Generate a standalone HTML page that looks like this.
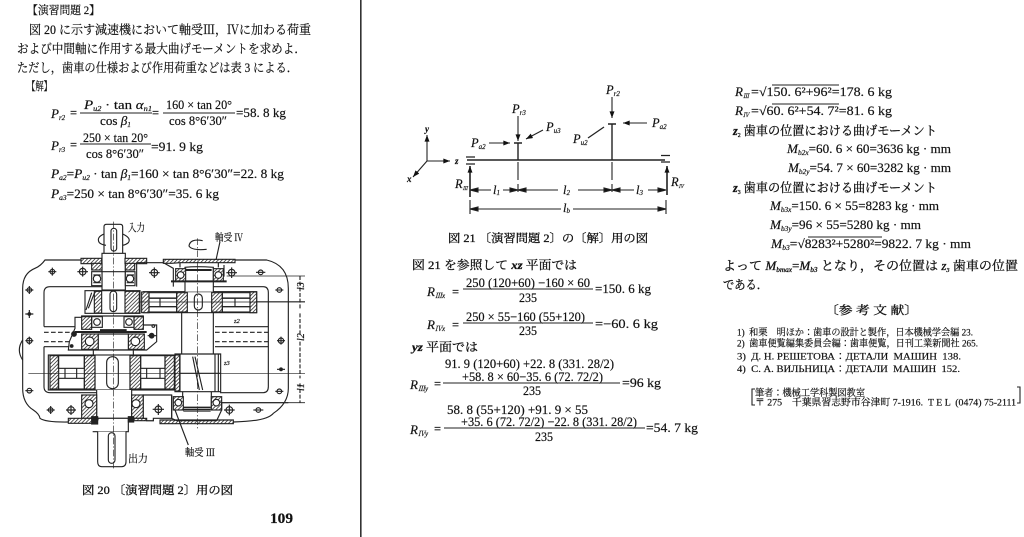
<!DOCTYPE html>
<html lang="ja"><head><meta charset="utf-8"><title>演習問題 2</title>
<style>
html,body{margin:0;padding:0;background:#fff}
svg{display:block;filter:blur(.3px)}
text{font-family:"Liberation Serif","Noto Serif CJK JP",serif;fill:#111;white-space:pre;stroke:#111;stroke-width:.18px}
.i{font-style:italic}
.b{stroke:#111;stroke-width:.3px}
.l{stroke:#222;fill:none;stroke-width:1.1}
</style></head><body>
<svg xmlns="http://www.w3.org/2000/svg" width="1024" height="537" viewBox="0 0 1024 537">
<defs>
<pattern id="h" width="8" height="8" patternUnits="userSpaceOnUse" patternTransform="rotate(45)"><rect width="8" height="8" fill="#fff"/><rect width="2.4" height="8" fill="#333"/></pattern>
<marker id="a" viewBox="0 0 8 6" refX="8" refY="3" markerWidth="7" markerHeight="5" orient="auto" markerUnits="userSpaceOnUse"><path d="M0 0L8 3L0 6z" fill="#111"/></marker>
</defs>
<rect width="1024" height="537" fill="#fff"/>
<rect x="360" y="0" width="1.6" height="537" fill="#333"/>

<!-- Left page text -->
<g class="b">
<text x="27" y="14" font-size="11.5" textLength="73" lengthAdjust="spacingAndGlyphs">【演習問題 2】</text>
<text x="29" y="34" font-size="12.5" textLength="282" lengthAdjust="spacingAndGlyphs">図 20 に示す減速機において軸受Ⅲ，Ⅳに加わる荷重</text>
<text x="17" y="53" font-size="12.5" textLength="289" lengthAdjust="spacingAndGlyphs">および中間軸に作用する最大曲げモーメントを求めよ．</text>
<text x="17" y="72" font-size="12.5" textLength="281" lengthAdjust="spacingAndGlyphs">ただし，歯車の仕様および作用荷重などは表 3 による．</text>
<text x="27" y="90" font-size="11.5" textLength="25" lengthAdjust="spacingAndGlyphs">【解】</text>
</g>
<g font-size="12.5">
<text x="51" y="118" class="i" font-size="13">P<tspan font-size="7" dy="2">r2</tspan></text><text x="70" y="117">=</text>
<text x="84" y="109" textLength="68" lengthAdjust="spacingAndGlyphs"><tspan class="i">P<tspan font-size="7" dy="2">u2</tspan></tspan><tspan dy="-2"> · tan </tspan><tspan class="i">α<tspan font-size="7" dy="2">n1</tspan></tspan></text>
<line x1="80" y1="113" x2="152" y2="113" class="l"/>
<text x="100" y="125" textLength="31" lengthAdjust="spacingAndGlyphs">cos <tspan class="i">β<tspan font-size="7" dy="2">1</tspan></tspan></text>
<text x="152" y="117">=</text>
<text x="166" y="109" textLength="66" lengthAdjust="spacingAndGlyphs">160 × tan 20°</text>
<line x1="163" y1="113" x2="235" y2="113" class="l"/>
<text x="169" y="125" textLength="58" lengthAdjust="spacingAndGlyphs">cos 8°6′30″</text>
<text x="236" y="117" textLength="50" lengthAdjust="spacingAndGlyphs">=58. 8 kg</text>

<text x="51" y="150" class="i" font-size="13">P<tspan font-size="7" dy="2">r3</tspan></text><text x="70" y="149">=</text>
<text x="83" y="142" textLength="65" lengthAdjust="spacingAndGlyphs">250 × tan 20°</text>
<line x1="80" y1="144" x2="151" y2="144" class="l"/>
<text x="86" y="158" textLength="58" lengthAdjust="spacingAndGlyphs">cos 8°6′30″</text>
<text x="151" y="151" textLength="52" lengthAdjust="spacingAndGlyphs">=91. 9 kg</text>

<text x="51" y="178" textLength="233" lengthAdjust="spacingAndGlyphs"><tspan class="i">P<tspan font-size="7" dy="2">a2</tspan></tspan><tspan dy="-2">=</tspan><tspan class="i">P<tspan font-size="7" dy="2">u2</tspan></tspan><tspan dy="-2"> · tan </tspan><tspan class="i">β<tspan font-size="7" dy="2">1</tspan></tspan><tspan dy="-2">=160 × tan 8°6′30″=22. 8 kg</tspan></text>
<text x="51" y="198" textLength="168" lengthAdjust="spacingAndGlyphs"><tspan class="i">P<tspan font-size="7" dy="2">a3</tspan></tspan><tspan dy="-2">=250 × tan 8°6′30″=35. 6 kg</tspan></text>
</g>

<!-- Fig 20 drawing in 3x coordinates -->
<g transform="translate(0,210) scale(.33333)" fill="none" stroke="#222" stroke-width="3.4">
<path d="M245 150H135Q122 168 105 175Q68 190 68 235V535Q68 580 100 600Q118 612 120 625Q135 637 205 636"/>
<path d="M705 150H800Q865 165 865 235V535Q865 580 820 610Q800 634 700 636"/>
<path d="M68 390Q48 420 68 450"/>
<path d="M305 230H150Q132 230 132 248V350M132 410V530Q132 548 150 548H290"/>
<path d="M640 230H790Q805 230 805 248V530Q805 548 790 548H660"/>
<path d="M132 350H225M132 410H210M645 350H805M645 410H805"/>
<path d="M132 367H225M132 395H215M645 367H805M645 395H805" stroke-dasharray="14 7"/>
<!-- input shaft -->
<path d="M312 130V50Q312 43 320 43H360Q368 43 368 50V130" fill="#fff"/>
<rect x="333" y="55" width="17" height="68" rx="8"/>
<rect x="306" y="130" width="70" height="110" fill="#fff"/>
<path d="M306 185H376"/>
<!-- upper gears -->
<rect x="255" y="242" width="165" height="68" fill="#fff"/>
<rect x="283" y="244" width="22" height="65" fill="url(#h)"/><rect x="375" y="244" width="43" height="65" fill="url(#h)"/>
<path d="M265 295L283 250M258 300L275 248"/>
<rect x="330" y="243" width="20" height="62" rx="10"/>
<rect x="430" y="245" width="340" height="63" fill="#fff"/>
<rect x="530" y="248" width="32" height="58" fill="url(#h)"/><rect x="635" y="248" width="32" height="58" fill="url(#h)"/>
<rect x="425" y="246" width="22" height="62" fill="url(#h)"/><rect x="750" y="246" width="20" height="62" fill="url(#h)"/>
<path d="M447 265H530M447 290H530M667 265H750M667 290H750M480 265V290M705 265V290"/>
<rect x="447" y="248" width="83" height="16"/><rect x="447" y="290" width="83" height="16"/>
<rect x="667" y="248" width="83" height="16"/><rect x="667" y="290" width="83" height="16"/>
<rect x="583" y="252" width="24" height="48" rx="12" fill="#fff"/>
<!-- middle shaft -->
<path d="M555 245V172Q590 168 640 172V245" fill="#fff"/>
<path d="M545 308V432M640 308V432"/>
<path d="M558 180H635" stroke-width="6"/>
<!-- upper bearings and covers -->
<rect x="243" y="145" width="62" height="16" fill="url(#h)"/><rect x="375" y="145" width="65" height="16" fill="url(#h)"/>
<rect x="275" y="160" width="31" height="20" fill="url(#h)"/><rect x="376" y="160" width="28" height="20" fill="url(#h)"/>
<rect x="275" y="185" width="31" height="42" fill="#fff"/><rect x="376" y="185" width="29" height="42" fill="#fff"/>
<circle cx="291" cy="206" r="11"/><circle cx="390" cy="206" r="11"/>
<path d="M280 195H302M280 218H302M380 195H402M380 218H402"/>
<path d="M490 148H705V158H675L650 158H540L515 160H490Z" fill="url(#h)"/>
<path d="M540 158V172M655 158V172"/>
<rect x="527" y="176" width="30" height="38" fill="url(#h)"/><rect x="640" y="176" width="30" height="38" fill="url(#h)"/>
<circle cx="542" cy="195" r="10" fill="#fff"/><circle cx="655" cy="195" r="10" fill="#fff"/>
<path d="M513 214H680" stroke-width="6"/>
<path d="M410 158V230M410 158H490M490 158L520 175V230M672 165V200"/>
<!-- mid cartridge -->
<path d="M208 395L225 355V322H245V318H430V345H470V395L440 420H205Z" fill="#fff"/>
<rect x="245" y="320" width="30" height="38" fill="url(#h)"/><rect x="402" y="320" width="28" height="38" fill="url(#h)"/>
<rect x="275" y="320" width="32" height="32"/><rect x="372" y="320" width="30" height="32"/>
<circle cx="291" cy="336" r="10"/><circle cx="387" cy="336" r="10"/>
<path d="M225 366H440" stroke-width="6"/>
<path d="M300 362H380" stroke-width="9"/>
<rect x="245" y="372" width="50" height="46" fill="url(#h)"/><rect x="385" y="372" width="48" height="46" fill="url(#h)"/>
<circle cx="269" cy="394" r="13" fill="#fff"/><circle cx="406" cy="394" r="13" fill="#fff"/>
<path d="M295 372H385V420H295Z" fill="#fff"/>
<path d="M280 420H400V436H280Z" fill="#fff"/>
<!-- lower gear -->
<rect x="145" y="435" width="380" height="105" fill="#fff"/>
<rect x="253" y="437" width="32" height="100" fill="url(#h)"/><rect x="390" y="437" width="32" height="100" fill="url(#h)"/>
<rect x="150" y="437" width="26" height="100" fill="url(#h)"/>
<rect x="495" y="437" width="28" height="100" fill="url(#h)"/>
<rect x="175" y="437" width="78" height="38"/><rect x="175" y="505" width="78" height="32"/>
<rect x="422" y="437" width="73" height="38"/><rect x="422" y="505" width="73" height="32"/>
<path d="M195 475V505M230 475V505M440 475V505M480 475V505"/>
<path d="M285 435V540M390 435V540"/>
<rect x="320" y="440" width="35" height="96" rx="17" fill="#fff"/>
<!-- pinion -->
<path d="M525 432H662V545H525Z" fill="#fff"/>
<path d="M540 432V545M645 432V545M525 490H662M578 440L598 540M585 440L608 540"/>
<rect x="525" y="435" width="14" height="108" fill="url(#h)"/>
<path d="M655 432V545"/>
<path d="M548 545V600M634 545V600"/>
<!-- lower shafts -->
<path d="M290 540V625H395V540" fill="#fff"/>
<path d="M278 625H385V665H278" fill="#fff"/>
<path d="M293 665V755Q293 770 305 770H365Q378 770 378 755V665" fill="#fff"/>
<rect x="325" y="668" width="20" height="92" rx="10"/>
<!-- lower bearings and covers -->
<rect x="245" y="555" width="45" height="70" fill="url(#h)"/><rect x="395" y="555" width="35" height="70" fill="url(#h)"/>
<circle cx="267" cy="581" r="12" fill="#fff"/><circle cx="408" cy="581" r="12" fill="#fff"/>
<path d="M205 625H295L290 640H205ZM390 625H460V632H390Z" fill="url(#h)"/>
<path d="M480 630H700V641H480Z" fill="url(#h)"/>
<rect x="275" y="620" width="18" height="22" fill="#222"/>
<rect x="385" y="620" width="16" height="16" fill="#222"/>
<path d="M430 555H515V625H460V632H440V625H430Z" fill="#fff"/>
<rect x="520" y="560" width="30" height="40" fill="url(#h)"/><rect x="634" y="560" width="31" height="40" fill="url(#h)"/>
<circle cx="535" cy="578" r="10" fill="#fff"/><circle cx="649" cy="578" r="10" fill="#fff"/>
<path d="M550 592H632M550 598H632M550 603H632" stroke-width="4"/>
<path d="M515 555V625L530 632H650L665 600V578H865"/>
<!-- centre lines -->
<path d="M340 35V780M592 85V655" stroke-width="2" stroke-dasharray="20 6 4 6"/>
<path d="M85 490H915M420 276H915" stroke-width="2"/>
<!-- rotation -->
<path d="M312 72Q288 82 298 98Q305 104 318 106M368 72Q395 84 385 98Q378 104 368 106"/>
<path d="M608 92Q570 85 567 108Q575 122 620 118"/>
<path d="M660 95L648 150M525 600L565 705"/>
<!-- dimension -->
<path d="M680 198H915M770 275H915M660 578H915" stroke-width="2.5"/>
<path d="M900 198V300M900 310V375M900 395V505M900 520V578" stroke-dasharray="12 5"/>
<!-- holes -->
<circle cx="157" cy="185" r="7"/><path d="M145 185H169M157 173V197"/>
<circle cx="248" cy="185" r="10"/><path d="M232 185H264M248 170V200"/>
<circle cx="463" cy="188" r="10"/><path d="M447 188H479M463 172V204"/>
<circle cx="695" cy="188" r="10"/><path d="M679 188H711M695 172V204"/>
<circle cx="782" cy="187" r="7"/><path d="M768 187H796"/>
<circle cx="88" cy="240" r="7"/><path d="M76 240H100M88 228V252"/>
<circle cx="838" cy="240" r="7"/><path d="M826 240H850"/>
<circle cx="88" cy="312" r="4" fill="#222"/><path d="M76 312H100M88 300V324"/>
<circle cx="88" cy="392" r="8"/><path d="M76 392H100M88 380V404"/>
<circle cx="843" cy="392" r="8"/><path d="M831 392H855M843 380V404"/>
<circle cx="843" cy="478" r="4" fill="#222"/><path d="M831 478H855"/>
<circle cx="88" cy="542" r="7"/><path d="M76 542H100"/>
<circle cx="838" cy="544" r="7"/><path d="M826 544H850"/>
<circle cx="152" cy="600" r="7"/><path d="M140 600H164M152 588V612"/>
<circle cx="213" cy="600" r="10"/><path d="M198 600H228M213 585V615"/>
<circle cx="475" cy="598" r="10"/><path d="M458 598H492M475 582V615"/>
<circle cx="688" cy="600" r="10"/><path d="M672 600H704M688 584V616"/>
<circle cx="775" cy="600" r="7"/><path d="M760 600H790"/>
<circle cx="222" cy="372" r="7" fill="#222"/>
<circle cx="455" cy="377" r="7" fill="#222"/><path d="M443 377H470"/>
<circle cx="215" cy="408" r="4" fill="#222"/>
<circle cx="460" cy="348" r="4"/>
</g>
<g>
<text x="128" y="231" font-size="10.5" textLength="17" lengthAdjust="spacingAndGlyphs">入力</text>
<text x="215" y="241" font-size="10" textLength="28" lengthAdjust="spacingAndGlyphs">軸受 Ⅳ</text>
<text x="128" y="462" font-size="10.5" textLength="20" lengthAdjust="spacingAndGlyphs">出力</text>
<text x="185" y="456" font-size="10" textLength="30" lengthAdjust="spacingAndGlyphs">軸受 Ⅲ</text>
<text x="234" y="323" class="i" font-size="6.5">z2</text>
<text x="224" y="365" class="i" font-size="6.5">z3</text>
<text class="i" transform="translate(304,290) rotate(-90)" font-size="10">l3</text>
<text class="i" transform="translate(304,341) rotate(-90)" font-size="10">l2</text>
<text class="i" transform="translate(304,391) rotate(-90)" font-size="10">l1</text>
</g>
<text x="82" y="494" font-size="11.5" class="b" textLength="151" lengthAdjust="spacingAndGlyphs">図 20 〔演習問題 2〕用の図</text>
<text x="270" y="523" font-size="15" font-weight="bold" textLength="23" lengthAdjust="spacingAndGlyphs">109</text>

<!-- Fig 21 -->
<g class="l">
<path d="M467 160H665" stroke-width="1.6"/>
<path d="M466 157H475M466 164H475M661 155.5H670M661 162H670" stroke-width="1.3"/>
<path d="M518 143V160M514 143H522M612 124V160M608 124H616" stroke-width="1.4"/>
<path d="M518 162V180M518 184V192M612 162V180M612 184V192"/>
<line x1="518" y1="116" x2="518" y2="141" marker-end="url(#a)"/>
<line x1="612" y1="97" x2="612" y2="118" marker-end="url(#a)"/>
<line x1="489" y1="143" x2="510" y2="143" marker-end="url(#a)"/>
<line x1="543" y1="130" x2="526" y2="139" marker-end="url(#a)"/>
<line x1="647" y1="123" x2="623" y2="123" marker-end="url(#a)"/>
<line x1="470" y1="197" x2="470" y2="166" marker-end="url(#a)" stroke-width="1.6"/>
<line x1="667" y1="195" x2="667" y2="166" marker-end="url(#a)" stroke-width="1.6"/>
<line x1="427" y1="161" x2="427" y2="135" marker-end="url(#a)"/>
<line x1="427" y1="161" x2="450" y2="161" marker-end="url(#a)"/>
<line x1="427" y1="161" x2="413" y2="177" marker-end="url(#a)"/>
<path d="M588 138L604 127" stroke-width="1.3"/>
<path d="M470 190H491M503 190H558M578 190H634M648 190H666"/>
<path d="M470 209H561M573 209H666M470 200V214M666 200V214"/>
<path d="M470 190L478 188V192ZM518 190L510 188V192ZM518 190L526 188V192ZM612 190L604 188V192ZM612 190L620 188V192ZM666 190L658 188V192ZM470 209L478 207V211ZM666 209L658 207V211Z" fill="#111"/>
</g>
<g font-size="12.5" class="i">
<text x="512" y="113">P<tspan font-size="7" dy="2">r3</tspan></text>
<text x="606" y="94">P<tspan font-size="7" dy="2">r2</tspan></text>
<text x="471" y="147">P<tspan font-size="7" dy="2">a2</tspan></text>
<text x="546" y="131">P<tspan font-size="7" dy="2">u3</tspan></text>
<text x="652" y="127">P<tspan font-size="7" dy="2">a2</tspan></text>
<text x="573" y="143">P<tspan font-size="7" dy="2">u2</tspan></text>
<text x="425" y="132" font-size="9" font-weight="bold">y</text>
<text x="455" y="164" font-size="9" font-weight="bold">z</text>
<text x="407" y="182" font-size="9" font-weight="bold">x</text>
<text x="455" y="188">R<tspan font-size="5" dy="2">Ⅲ</tspan></text>
<text x="671" y="186">R<tspan font-size="5" dy="2">Ⅳ</tspan></text>
<text x="493" y="194">l<tspan font-size="7" dy="1">1</tspan></text>
<text x="563" y="194">l<tspan font-size="7" dy="1">2</tspan></text>
<text x="636" y="194">l<tspan font-size="7" dy="1">3</tspan></text>
<text x="563" y="212">l<tspan font-size="7" dy="1">b</tspan></text>
</g>
<text x="448" y="242" font-size="11.5" class="b" textLength="200" lengthAdjust="spacingAndGlyphs">図 21 〔演習問題 2〕の〔解〕用の図</text>

<!-- middle equations -->
<g font-size="12.5">
<text x="412" y="269" font-size="12" class="b" textLength="165" lengthAdjust="spacingAndGlyphs">図 21 を参照して <tspan class="i" font-weight="bold">xz</tspan> 平面では</text>
<text x="427" y="296" class="i" font-size="13">R<tspan font-size="7" dy="2">Ⅲx</tspan></text><text x="452" y="296">=</text>
<text x="466" y="287" textLength="124" lengthAdjust="spacingAndGlyphs">250 (120+60) −160 × 60</text>
<line x1="463" y1="289" x2="593" y2="289" class="l"/>
<text x="519" y="302" textLength="18" lengthAdjust="spacingAndGlyphs">235</text>
<text x="595" y="293" textLength="56" lengthAdjust="spacingAndGlyphs">=150. 6 kg</text>

<text x="427" y="329" class="i" font-size="13">R<tspan font-size="7" dy="2">Ⅳx</tspan></text><text x="452" y="329">=</text>
<text x="466" y="321" textLength="119" lengthAdjust="spacingAndGlyphs">250 × 55−160 (55+120)</text>
<line x1="463" y1="323" x2="593" y2="323" class="l"/>
<text x="519" y="335" textLength="18" lengthAdjust="spacingAndGlyphs">235</text>
<text x="595" y="328" textLength="63" lengthAdjust="spacingAndGlyphs">=−60. 6 kg</text>

<text x="412" y="351" font-size="12" class="b" textLength="66" lengthAdjust="spacingAndGlyphs"><tspan class="i" font-weight="bold">yz</tspan> 平面では</text>

<text x="410" y="389" class="i" font-size="13">R<tspan font-size="7" dy="2">Ⅲy</tspan></text><text x="434" y="388">=</text>
<text x="445" y="368" textLength="169" lengthAdjust="spacingAndGlyphs">91. 9 (120+60) +22. 8 (331. 28/2)</text>
<text x="462" y="381" textLength="141" lengthAdjust="spacingAndGlyphs">+58. 8 × 60−35. 6 (72. 72/2)</text>
<line x1="443" y1="383" x2="620" y2="383" class="l"/>
<text x="523" y="395" textLength="18" lengthAdjust="spacingAndGlyphs">235</text>
<text x="622" y="387" textLength="39" lengthAdjust="spacingAndGlyphs">=96 kg</text>

<text x="410" y="434" class="i" font-size="13">R<tspan font-size="7" dy="2">Ⅳy</tspan></text><text x="434" y="433">=</text>
<text x="447" y="414" textLength="141" lengthAdjust="spacingAndGlyphs">58. 8 (55+120) +91. 9 × 55</text>
<text x="461" y="426" textLength="176" lengthAdjust="spacingAndGlyphs">+35. 6 (72. 72/2) −22. 8 (331. 28/2)</text>
<line x1="444" y1="428" x2="645" y2="428" class="l"/>
<text x="535" y="441" textLength="18" lengthAdjust="spacingAndGlyphs">235</text>
<text x="646" y="432" textLength="52" lengthAdjust="spacingAndGlyphs">=54. 7 kg</text>
</g>

<!-- right column -->
<g font-size="12.5">
<text x="735" y="96" class="i" font-size="13">R<tspan font-size="6" dy="2">Ⅲ</tspan></text>
<text x="751" y="96" textLength="141" lengthAdjust="spacingAndGlyphs">=√150. 6²+96²=178. 6 kg</text>
<line x1="772" y1="85" x2="839" y2="85" class="l"/>
<text x="735" y="115" class="i" font-size="13">R<tspan font-size="6" dy="2">Ⅳ</tspan></text>
<text x="751" y="115" textLength="141" lengthAdjust="spacingAndGlyphs">=√60. 6²+54. 7²=81. 6 kg</text>
<line x1="772" y1="104" x2="839" y2="104" class="l"/>
<text x="733" y="135" class="b" textLength="204" lengthAdjust="spacingAndGlyphs"><tspan class="i" font-weight="bold">z</tspan><tspan font-size="6" dy="2">2</tspan><tspan dy="-2"> 歯車の位置における曲げモーメント</tspan></text>
<text x="787" y="153" textLength="164" lengthAdjust="spacingAndGlyphs"><tspan class="i">M<tspan font-size="7" dy="2">b2x</tspan></tspan><tspan dy="-2">=60. 6 × 60=3636 kg · mm</tspan></text>
<text x="788" y="172" textLength="163" lengthAdjust="spacingAndGlyphs"><tspan class="i">M<tspan font-size="7" dy="2">b2y</tspan></tspan><tspan dy="-2">=54. 7 × 60=3282 kg · mm</tspan></text>
<text x="733" y="192" class="b" textLength="204" lengthAdjust="spacingAndGlyphs"><tspan class="i" font-weight="bold">z</tspan><tspan font-size="6" dy="2">3</tspan><tspan dy="-2"> 歯車の位置における曲げモーメント</tspan></text>
<text x="770" y="210" textLength="169" lengthAdjust="spacingAndGlyphs"><tspan class="i">M<tspan font-size="7" dy="2">b3x</tspan></tspan><tspan dy="-2">=150. 6 × 55=8283 kg · mm</tspan></text>
<text x="770" y="229" textLength="151" lengthAdjust="spacingAndGlyphs"><tspan class="i">M<tspan font-size="7" dy="2">b3y</tspan></tspan><tspan dy="-2">=96 × 55=5280 kg · mm</tspan></text>
<text x="771" y="248" textLength="200" lengthAdjust="spacingAndGlyphs"><tspan class="i">M<tspan font-size="7" dy="2">b3</tspan></tspan><tspan dy="-2">=√8283²+5280²=9822. 7 kg · mm</tspan></text>
<line x1="808" y1="237" x2="882" y2="237" class="l"/>
<text x="723" y="270" font-size="12.5" class="b" textLength="295" lengthAdjust="spacingAndGlyphs">よって <tspan class="i">M<tspan font-size="7" dy="2">bmax</tspan></tspan><tspan dy="-2">=</tspan><tspan class="i">M<tspan font-size="7" dy="2">b3</tspan></tspan><tspan dy="-2"> となり，その位置は </tspan><tspan class="i">z<tspan font-size="6" dy="2">3</tspan></tspan><tspan dy="-2"> 歯車の位置</tspan></text>
<text x="723" y="289" font-size="12.5" class="b" textLength="45" lengthAdjust="spacingAndGlyphs">である．</text>
<text x="825" y="314" font-size="11.5" class="b" textLength="93" lengthAdjust="spacingAndGlyphs">〔参 考 文 献〕</text>
</g>
<g font-size="9.5">
<text x="737" y="335.5" textLength="236" lengthAdjust="spacingAndGlyphs">1)  和栗　明ほか：歯車の設計と製作，日本機械学会編 23.</text>
<text x="737" y="346.5" textLength="241" lengthAdjust="spacingAndGlyphs">2)  歯車便覧編集委員会編：歯車便覧，日刊工業新聞社 265.</text>
<text x="737" y="359.5" textLength="224" lengthAdjust="spacingAndGlyphs">3)  Д. Н. РЕШЕТОВА：ДЕТАЛИ  МАШИН  138.</text>
<text x="737" y="372" textLength="223" lengthAdjust="spacingAndGlyphs">4)  С. А. ВИЛЬНИЦА：ДЕТАЛИ  МАШИН  152.</text>
<text x="755" y="396" textLength="110" lengthAdjust="spacingAndGlyphs">筆者：機械工学科製図教室</text>
<text x="755" y="405.5" textLength="261" lengthAdjust="spacingAndGlyphs">〒 275　千葉県習志野市谷津町 7-1916.  T E L  (0474) 75-2111</text>
</g>
<path d="M755 389H752V405H755M1017 387H1020V403H1017" class="l"/>
</svg>
</body></html>
